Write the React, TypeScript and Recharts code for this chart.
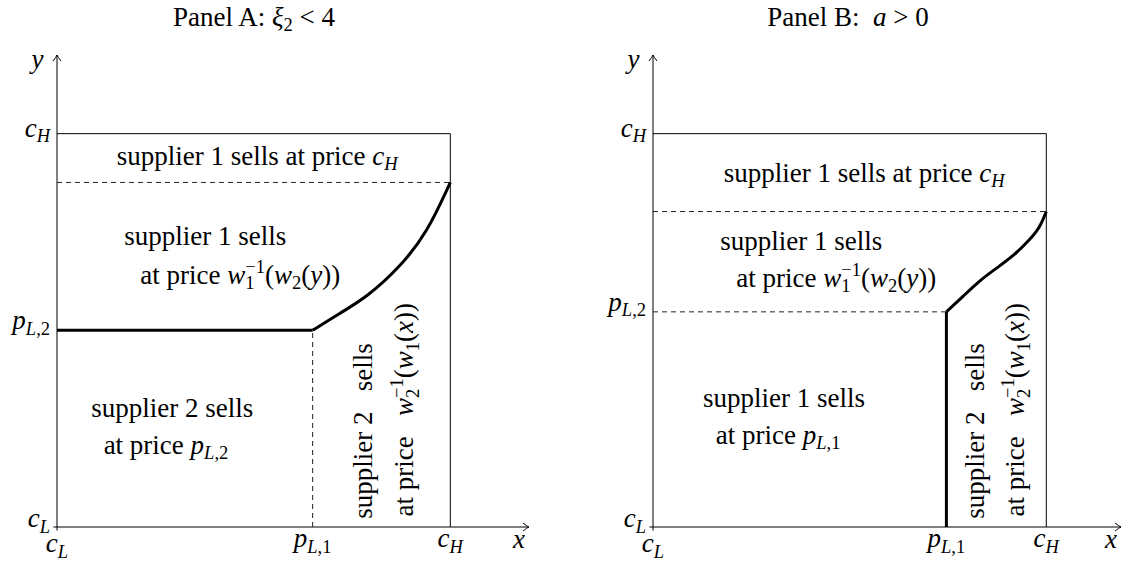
import React from "react";
import { ComposedChart, Line, XAxis, YAxis, ReferenceLine, ReferenceDot } from "recharts";

// axis values (cL at 0, cH at 100, axes run a bit past cH)
const cL = 0;
const cH = 100;
const yMax = 120;

// Panel A: xi2 < 4
const pL1A = 65;
const pL2A = 50;
const topDashA = 87.6;
const curveAX = [65, 72, 78.9, 87.3, 94.1, 100];
const curveAY = [50, 54.4, 58.5, 66.2, 74.8, 87.6];

// Panel B: a > 0
const pL1B = 74.6;
const pL2B = 54.7;
const topDashB = 80.2;
const curveBX = [74.6, 79, 83.2, 87.5, 91.6, 95.9, 98.5, 100];
const curveBY = [54.7, 58.8, 62.8, 65.9, 68.9, 73.1, 76.4, 80.2];

const xTickNamesA = ["c_L", "p_L1", "c_H"];
const yTickNamesA = ["c_L", "p_L2", "c_H"];
const xTickNamesB = ["c_L", "p_L1", "c_H"];
const yTickNamesB = ["c_L", "p_L2", "c_H"];

const FONT = "'Liberation Serif', 'Times New Roman', serif";
const BIG = 27;
const SMALL = 18.5;

const It = ({ children }: { children: React.ReactNode }) => <tspan fontStyle="italic">{children}</tspan>;

const symC = (s: string) => (
  <>
    <It>c</It>
    <tspan fontSize={SMALL} dy={5.5} fontStyle="italic">{s}</tspan>
  </>
);
const symP = (n: string) => (
  <>
    <It>p</It>
    <tspan fontSize={SMALL} dy={5.5}>
      <It>L</It>,{n}
    </tspan>
  </>
);
const winv = (a: string, b: string, v: string) => (
  <>
    <It>w</It>
    <tspan fontSize={SMALL} dy={5.5}>{a}</tspan>
    <tspan fontSize={SMALL} dx={-9.25} dy={-16}>−1</tspan>
    <tspan dy={10.5}>(</tspan>
    <It>w</It>
    <tspan fontSize={SMALL} dy={5.5}>{b}</tspan>
    <tspan dy={-5.5}>(</tspan>
    <It>{v}</It>
    <tspan>))</tspan>
  </>
);

const symbols: Record<string, React.ReactNode> = {
  c_L: symC("L"),
  c_H: symC("H"),
  p_L1: symP("1"),
  p_L2: symP("2"),
};

type Note = { x: number; y: number; rot?: boolean; node: React.ReactNode };

const notesA: Note[] = [
  { x: 50.9, y: 93.9, node: <>supplier 1 sells at price {symC("H")}</> },
  { x: 37.7, y: 73.5, node: "supplier 1 sells" },
  { x: 46.6, y: 63.6, node: <>at price {winv("1", "2", "y")}</> },
  { x: 29.3, y: 29.8, node: "supplier 2 sells" },
  { x: 27.7, y: 20.4, node: <>at price {symP("2")}</> },
  { x: 78.4, y: 24.4, rot: true, node: "supplier 2   sells" },
  { x: 88.8, y: 29.8, rot: true, node: <>at price   {winv("2", "1", "x")}</> },
];

const notesB: Note[] = [
  { x: 53.7, y: 89.6, node: <>supplier 1 sells at price {symC("H")}</> },
  { x: 37.7, y: 72.3, node: "supplier 1 sells" },
  { x: 46.6, y: 62.8, node: <>at price {winv("1", "2", "y")}</> },
  { x: 33.3, y: 32.3, node: "supplier 1 sells" },
  { x: 31.8, y: 22.9, node: <>at price {symP("1")}</> },
  { x: 82.4, y: 24.4, rot: true, node: "supplier 2   sells" },
  { x: 92.6, y: 29.8, rot: true, node: <>at price   {winv("2", "1", "x")}</> },
];

const toPoints = (xs: number[], ys: number[]) => xs.map((x, i) => ({ x, y: ys[i] }));

type PanelProps = {
  left: number;
  width: number;
  yWidth: number;
  xMax: number;
  pL1: number;
  pL2: number;
  topDash: number;
  curve: { x: number; y: number }[];
  thick: { x: number; y: number }[];
  dashed: { x: number; y: number }[][];
  xNames: string[];
  yNames: string[];
  notes: Note[];
};

function Panel(p: PanelProps) {
  const xTick = (t: any) => {
    const name = p.xNames[t.index];
    const dy = name === "c_L" ? 25 : 20;
    return (
      <text x={t.x} y={t.y + dy} textAnchor="middle" fontFamily={FONT} fontSize={BIG} fill="#000">
        {symbols[name]}
      </text>
    );
  };
  const yTick = (t: any) => {
    const name = p.yNames[t.index];
    const dy = name === "c_H" ? 3 : name === "c_L" ? 0 : -1;
    return (
      <text x={t.x - 7} y={t.y + dy} textAnchor="end" fontFamily={FONT} fontSize={BIG} fill="#000">
        {symbols[name]}
      </text>
    );
  };
  const arrow = (dir: "right" | "up") => (d: any) => {
    const { cx, cy } = d;
    const path =
      dir === "right"
        ? `M${cx - 6},${cy - 4} Q${cx - 2},${cy - 0.8} ${cx},${cy} Q${cx - 2},${cy + 0.8} ${cx - 6},${cy + 4}`
        : `M${cx - 4},${cy + 6} Q${cx - 0.8},${cy + 2} ${cx},${cy} Q${cx + 0.8},${cy + 2} ${cx + 4},${cy + 6}`;
    return (
      <g>
        <path d={path} fill="none" stroke="#000" strokeWidth={1} />
        <text
          x={dir === "right" ? cx - 10 : cx - 19.5}
          y={dir === "right" ? cy + 21 : cy + 12.6}
          textAnchor="middle"
          fontFamily={FONT}
          fontSize={BIG}
          fontStyle="italic"
          fill="#000"
        >
          {dir === "right" ? "x" : "y"}
        </text>
      </g>
    );
  };
  return (
    <div style={{ position: "absolute", left: p.left, top: 0 }}>
      <ComposedChart
        width={p.width}
        height={565}
        margin={{ top: 55, right: p.width - p.yWidth - p.xMax * 3.933, bottom: 0, left: 0 }}
      >
        <XAxis
          dataKey="x"
          type="number"
          domain={[0, p.xMax]}
          allowDataOverflow
          ticks={[cL, p.pL1, cH]}
          interval={0}
          axisLine={false}
          tickLine={false}
          tickSize={0}
          tickMargin={0}
          height={38}
          tick={xTick}
        />
        <YAxis
          dataKey="y"
          type="number"
          domain={[0, yMax]}
          allowDataOverflow
          ticks={[cL, p.pL2, cH]}
          interval={0}
          axisLine={false}
          tickLine={false}
          tickSize={0}
          tickMargin={0}
          width={p.yWidth}
          tick={yTick}
        />
        {/* axes */}
        <ReferenceLine segment={[{ x: -0.9, y: 0 }, { x: p.xMax, y: 0 }]} stroke="#000" strokeWidth={1} ifOverflow="visible" />
        <ReferenceLine segment={[{ x: 0, y: -0.9 }, { x: 0, y: yMax }]} stroke="#000" strokeWidth={1} ifOverflow="visible" />
        {/* box */}
        <ReferenceLine segment={[{ x: 0, y: cH }, { x: cH, y: cH }]} stroke="#000" strokeWidth={1} />
        <ReferenceLine segment={[{ x: cH, y: 0 }, { x: cH, y: cH }]} stroke="#000" strokeWidth={1} />
        <ReferenceLine
          segment={[{ x: 0, y: p.topDash }, { x: cH, y: p.topDash }]}
          stroke="#222"
          strokeWidth={1}
          strokeDasharray="5 4"
        />
        {p.dashed.map((s, i) => (
          <ReferenceLine key={i} segment={s} stroke="#222" strokeWidth={1} strokeDasharray="5 4" />
        ))}
        <Line data={p.thick} dataKey="y" type="linear" stroke="#000" strokeWidth={3} dot={false} isAnimationActive={false} />
        <Line data={p.curve} dataKey="y" type="basis" stroke="#000" strokeWidth={3} dot={false} isAnimationActive={false} />
        <ReferenceDot x={p.xMax} y={0} r={0} ifOverflow="visible" shape={arrow("right")} />
        <ReferenceDot x={0} y={yMax} r={0} ifOverflow="visible" shape={arrow("up")} />
        {p.notes.map((n, i) => (
          <ReferenceDot
            key={"n" + i}
            x={n.x}
            y={n.y}
            r={0}
            ifOverflow="visible"
            shape={(d: any) => (
              <text
                x={d.cx}
                y={d.cy + 7}
                textAnchor="middle"
                fontFamily={FONT}
                fontSize={BIG}
                fill="#000"
                style={{ whiteSpace: "pre" }}
                transform={n.rot ? `rotate(-90 ${d.cx} ${d.cy})` : undefined}
              >
                {n.node}
              </text>
            )}
          />
        ))}
      </ComposedChart>
    </div>
  );
}

const titleStyle: React.CSSProperties = {
  position: "absolute",
  top: 2,
  width: 300,
  textAlign: "center",
  fontFamily: FONT,
  fontSize: BIG,
  lineHeight: "30px",
  color: "#000",
  whiteSpace: "pre",
};

export default function App() {
  return (
    <div style={{ position: "absolute", left: 0, top: 0, width: 1123, height: 565, background: "#fff" }}>
      <div style={{ ...titleStyle, left: 254 - 150 }}>
        Panel A: <i>ξ</i>
        <span style={{ fontSize: SMALL, position: "relative", top: 5 }}>2</span> {"< 4"}
      </div>
      <div style={{ ...titleStyle, left: 848 - 150 }}>
        Panel B:  <i>a</i> {"> 0"}
      </div>
      <Panel
        left={0}
        width={561}
        yWidth={57}
        xMax={120}
        pL1={pL1A}
        pL2={pL2A}
        topDash={topDashA}
        curve={toPoints(curveAX, curveAY)}
        thick={[
          { x: cL, y: pL2A },
          { x: pL1A, y: pL2A },
        ]}
        dashed={[[{ x: pL1A, y: cL }, { x: pL1A, y: pL2A }]]}
        xNames={xTickNamesA}
        yNames={yTickNamesA}
        notes={notesA}
      />
      <Panel
        left={561}
        width={562}
        yWidth={92}
        xMax={119}
        pL1={pL1B}
        pL2={pL2B}
        topDash={topDashB}
        curve={toPoints(curveBX, curveBY)}
        thick={[
          { x: pL1B, y: cL },
          { x: pL1B, y: pL2B },
        ]}
        dashed={[[{ x: cL, y: pL2B }, { x: pL1B, y: pL2B }]]}
        xNames={xTickNamesB}
        yNames={yTickNamesB}
        notes={notesB}
      />
    </div>
  );
}
